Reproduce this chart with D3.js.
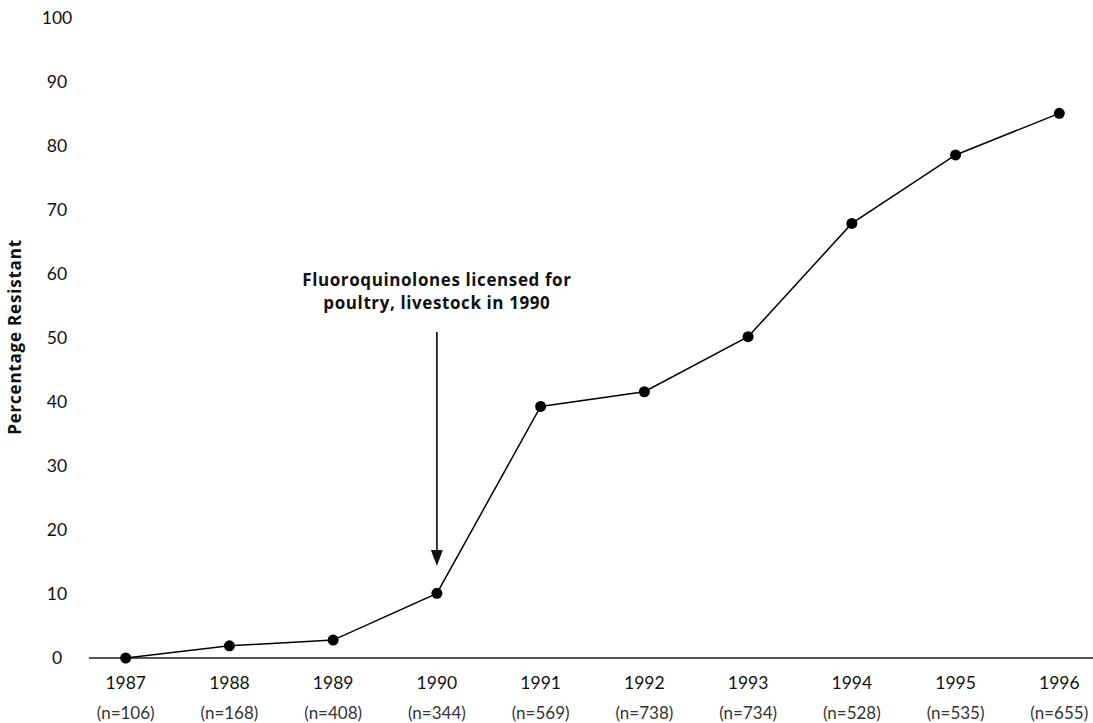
<!DOCTYPE html>
<html><head><meta charset="utf-8">
<script src="https://cdn.jsdelivr.net/npm/d3@7"></script>
<style>body{margin:0;background:#fff}svg{display:block}text{font-family:Lato,"Open Sans",sans-serif;fill:#111}</style>
</head><body><div id="chart"></div>
<script>
const years = ["1987","1988","1989","1990","1991","1992","1993","1994","1995","1996"];
const sampleSizes = ["(n=106)","(n=168)","(n=408)","(n=344)","(n=569)","(n=738)","(n=734)","(n=528)","(n=535)","(n=655)"];
const percentResistant = [0, 1.9, 2.8, 10.1, 39.3, 41.6, 50.2, 67.9, 78.6, 85.1];
const yTicks = [0,10,20,30,40,50,60,70,80,90,100];
const yTitle = "Percentage Resistant";
const annotationLines = ["Fluoroquinolones licensed for","poultry, livestock in 1990"];
const annotationYear = "1990";

const W = 1093, H = 723;
const svg = d3.select("#chart").append("svg").attr("width", W).attr("height", H);

const x = d3.scalePoint().domain(years).range([125.7, 1059.3]);
const y = d3.scaleLinear().domain([0, 100]).range([658, 18]);

const boldFont = "'Open Sans', sans-serif";

// y tick labels (centred in the reference)
svg.append("g").selectAll("text").data(yTicks).join("text")
  .attr("x", 57).attr("y", d => y(d)).attr("dy", "0.35em")
  .attr("text-anchor", "middle").style("font-size", "17.5px").text(d => d);

// y axis title
svg.append("text").attr("transform", `translate(15,${(y(0)+y(100))/2 - 1}) rotate(-90)`)
  .attr("text-anchor", "middle").attr("dy", "0.35em")
  .style("font-family", boldFont).style("letter-spacing", "0.8px")
  .style("font-size", "17px").style("font-weight", "700").text(yTitle);

// x axis line
svg.append("line").attr("x1", 89).attr("x2", 1093).attr("y1", y(0)).attr("y2", y(0))
  .attr("stroke", "#555").attr("stroke-width", 2.2);

// x labels
const xl = svg.append("g").selectAll("g").data(years).join("g")
  .attr("transform", d => `translate(${x(d)},0)`);
xl.append("text").attr("y", 683).attr("dy", "0.35em").attr("text-anchor", "middle")
  .style("font-size", "17.5px").text(d => d);
xl.append("text").attr("y", 713).attr("dy", "0.35em").attr("text-anchor", "middle")
  .style("font-size", "17px").style("fill", "#333").text((d, i) => sampleSizes[i]);

// line
const data = years.map((yr, i) => ({yr, v: percentResistant[i]}));
svg.append("path").datum(data)
  .attr("d", d3.line().x(d => x(d.yr)).y(d => y(d.v)))
  .attr("fill", "none").attr("stroke", "#000").attr("stroke-width", 1.5);
svg.append("g").selectAll("circle").data(data).join("circle")
  .attr("cx", d => x(d.yr)).attr("cy", d => y(d.v)).attr("r", 5.5).attr("fill", "#000");

// annotation
const ax = x(annotationYear);
svg.append("g").selectAll("text").data(annotationLines).join("text")
  .attr("x", ax).attr("y", (d, i) => 280 + i * 23.5).attr("dy", "0.35em")
  .attr("text-anchor", "middle").style("font-family", boldFont).style("letter-spacing", "0.6px")
  .style("font-size", "17px").style("font-weight", "700").text(d => d);
svg.append("line").attr("x1", ax).attr("x2", ax).attr("y1", 332).attr("y2", 551)
  .attr("stroke", "#222").attr("stroke-width", 1.8);
svg.append("path").attr("d", `M${ax-6},550 L${ax+6},550 L${ax},566 Z`).attr("fill", "#111");
</script></body></html>
